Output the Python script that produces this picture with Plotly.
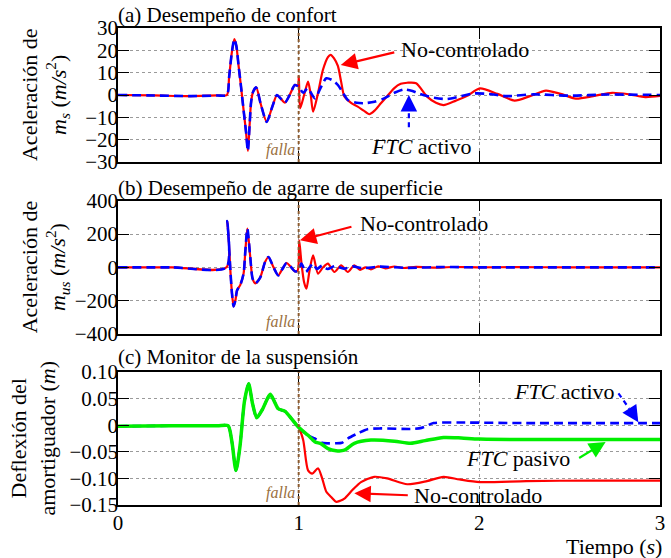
import plotly.graph_objects as go

# ---------------- data ----------------
# (a) sprung-mass acceleration m_s (m/s^2) : common part before the fault
t_a_pre = [0, 0.2, 0.4, 0.55, 0.603, 0.615, 0.63, 0.644, 0.655, 0.668, 0.682, 0.695, 0.708, 0.719,
           0.728, 0.737, 0.748, 0.765, 0.79, 0.823, 0.855, 0.88, 0.90, 0.924, 0.95, 0.979]
acc_ms_pre = [0, -0.2, -0.5, -0.2, 0, 8, 19, 25, 22, 12.7, 3, -6.7, -16, -25,
              -14, -3, 1.5, 3.4, -4, -12, -5, 0, -1.5, -3.4, 0, 4.5]
# no-controlado after the fault
t_a_nc = [0.996, 1.001, 1.008, 1.03, 1.052, 1.066, 1.08, 1.107, 1.134, 1.162, 1.177, 1.195, 1.217,
          1.235, 1.253, 1.29, 1.327, 1.36, 1.391, 1.42, 1.455, 1.49, 1.528, 1.565, 1.601, 1.65,
          1.711, 1.76, 1.802, 1.87, 1.93, 2.003, 2.1, 2.195, 2.28, 2.369, 2.45, 2.534, 2.63,
          2.735, 2.83, 2.918, 3.0]
acc_ms_nc = [4.2, 8.5, -6, 0, 6, 0.5, -7.5, 0.8, 11.2, 17, 18, 16.5, 13,
             6, -0.7, -3.5, -5.2, -7, -8.6, -7, -3.7, -0.5, 3, 5, 5.5, 5.3,
             -0.7, -3.5, -4.5, -2.5, -0.5, 3, 0.5, -2.5, -0.5, 2, 0.5, -1.6, -0.5,
             1, 0.3, -0.9, -0.4]
# FTC activo after the fault
t_a_ftc = [1.0, 1.025, 1.05, 1.09, 1.12, 1.153, 1.19, 1.217, 1.245, 1.272, 1.32, 1.363, 1.42,
           1.473, 1.53, 1.583, 1.63, 1.67, 1.75, 1.82, 1.9, 1.97, 2.05, 2.15, 2.3, 2.5, 2.7, 3.0]
acc_ms_ftc = [3.7, 1, 3, -1.5, 3, 7.5, 6.5, 4.5, 1, -2.2, -3.5, -3.7, -3,
              -1.5, 1, 2.5, 1.8, 0.5, -1.2, -1.8, -0.5, 0.7, 0.5, -0.5, 0.3, -0.3, 0.2, 0]

# (b) unsprung-mass acceleration m_us (m/s^2)
t_b_pre = [0, 0.3, 0.601, 0.605, 0.614, 0.622, 0.631, 0.64, 0.65, 0.659, 0.677, 0.695, 0.705, 0.716,
           0.732, 0.745, 0.76, 0.787, 0.814, 0.833, 0.86, 0.887, 0.91, 0.933, 0.955, 0.979]
acc_mus_pre = [0, 0, 0, 278, 142, -18, -158, -234, -198, -138, -105, -38, 100, 232,
               62, -68, -96, -62, 32, 62, 2, -48, -10, 26, 5, -24]
t_b_nc = [0.995, 1.003, 1.015, 1.03, 1.043, 1.06, 1.08, 1.107, 1.135, 1.162, 1.198, 1.235, 1.272,
          1.308, 1.34, 1.37, 1.40, 1.44, 1.48, 1.53, 1.58, 1.65, 1.75, 1.85, 2.0, 2.2, 2.5, 3.0]
acc_mus_nc = [-18, 162, 30, -90, -128, -20, 72, -38, 0, 22, -28, 12, -28,
              12, -15, 0, -12, 6, -6, 5, -4, 3, -2, 2, 0, 1, 0, 0]
t_b_ftc = [0.997, 1.015, 1.04, 1.06, 1.08, 1.10, 1.13, 1.16, 1.2, 1.25, 1.3, 1.35, 1.45, 1.6, 1.8,
           2.0, 3.0]
acc_mus_ftc = [-20, 22, -28, 0, 22, -10, 10, -10, 8, -8, 6, -5, 4, -3, 2, 0, 0]

# (c) suspension deflection (m)
t_c_pre = [0, 0.3, 0.55, 0.609, 0.63, 0.653, 0.675, 0.70, 0.723, 0.745, 0.768, 0.80, 0.842, 0.865,
           0.887, 0.925, 0.961, 1.0]
defl_pre = [-0.002, -0.001, -0.001, -0.001, -0.03, -0.085, -0.04, 0.045, 0.078, 0.04, 0.014, 0.03,
            0.058, 0.045, 0.031, 0.026, 0.012, -0.004]
t_c_nc = [1.025, 1.052, 1.075, 1.107, 1.13, 1.153, 1.18, 1.207, 1.23, 1.253, 1.3, 1.345, 1.418,
          1.49, 1.601, 1.71, 1.802, 1.89, 2.003, 2.26, 2.62, 3.0]
defl_nc = [-0.028, -0.085, -0.091, -0.081, -0.1, -0.125, -0.135, -0.144, -0.142, -0.138, -0.121,
           -0.107, -0.097, -0.1, -0.111, -0.105, -0.097, -0.102, -0.107, -0.105, -0.104, -0.104]
t_c_act = [1.052, 1.089, 1.13, 1.207, 1.24, 1.272, 1.33, 1.381, 1.455, 1.62, 1.68, 1.747, 1.89,
           2.26, 3.0]
defl_act = [-0.019, -0.025, -0.033, -0.034, -0.033, -0.025, -0.015, -0.0075, -0.006, -0.007,
            -0.005, 0.004, 0.005, 0.004, 0.004]
t_c_pas = [1.052, 1.089, 1.125, 1.162, 1.207, 1.253, 1.308, 1.40, 1.53, 1.62, 1.70, 1.802, 1.9,
           2.0, 2.45, 3.0]
defl_pas = [-0.019, -0.031, -0.035, -0.044, -0.048, -0.047, -0.034, -0.028, -0.030, -0.034,
            -0.029, -0.023, -0.024, -0.026, -0.027, -0.027]

x_ticks = [0, 1, 2, 3]
defl_ticks = [0.10, 0.05, 0, -0.05, -0.10, -0.15]
defl_tick_text = ["0.10", "0.05", "0", "\u22120.05", "\u22120.10", "\u22120.15"]
t_fault = 1.0

# ---------------- figure ----------------
RED = "#ff0000"
BLUE = "#0000ff"
GREEN = "#00ee00"
BROWN = "#8c5a2d"
FALLA = "#9a7040"
FONT = "Liberation Serif"

fig = go.Figure()


def add(t, v, color, width, dash, xa, ya):
    fig.add_trace(go.Scatter(
        x=t, y=v, mode="lines", xaxis=xa, yaxis=ya, showlegend=False, hoverinfo="skip",
        line=dict(color=color, width=width, dash=dash, shape="spline", smoothing=0.7)))


add(t_a_pre + t_a_nc, acc_ms_pre + acc_ms_nc, RED, 2.2, "solid", "x", "y")
add(t_a_pre + t_a_ftc, acc_ms_pre + acc_ms_ftc, BLUE, 2.6, "9px,5px", "x", "y")
add(t_b_pre + t_b_nc, acc_mus_pre + acc_mus_nc, RED, 2.2, "solid", "x2", "y2")
add(t_b_pre + t_b_ftc, acc_mus_pre + acc_mus_ftc, BLUE, 2.6, "9px,5px", "x2", "y2")
add(t_c_pre + t_c_nc, defl_pre + defl_nc, RED, 2.2, "solid", "x3", "y3")
add(t_c_pre + t_c_act, defl_pre + defl_act, BLUE, 2.6, "9px,5px", "x3", "y3")
add(t_c_pre + t_c_pas, defl_pre + defl_pas, GREEN, 3.5, "solid", "x3", "y3")

axis_common = dict(
    showline=True, linecolor="black", linewidth=1.6, mirror="ticks",
    ticks="inside", ticklen=11, tickwidth=1.4, tickcolor="black",
    showgrid=True, gridcolor="#9a9a9a", griddash="dot", gridwidth=1,
    zeroline=False, tickfont=dict(family=FONT, size=21, color="black"),
)
y_common = dict(axis_common, ticklabelstandoff=-6)

fig.update_layout(
    width=671, height=558,
    margin=dict(l=118, r=6, t=28, b=53),
    paper_bgcolor="white", plot_bgcolor="white",
    font=dict(family=FONT, color="black"),
    xaxis=dict(axis_common, domain=[0, 1], anchor="y", range=[0, 3], tickvals=x_ticks,
               showticklabels=False),
    xaxis2=dict(axis_common, domain=[0, 1], anchor="y2", range=[0, 3], tickvals=x_ticks,
                showticklabels=False),
    xaxis3=dict(axis_common, domain=[0, 1], anchor="y3", range=[0, 3], tickvals=x_ticks,
                ticklabelstandoff=-2),
    yaxis=dict(y_common, domain=[0.719, 1], anchor="x", range=[-30, 30], dtick=10),
    yaxis2=dict(y_common, domain=[0.3585, 0.638], anchor="x2", range=[-400, 400], dtick=200),
    yaxis3=dict(y_common, domain=[0, 0.2788], anchor="x3", range=[-0.15, 0.10],
                tickvals=defl_ticks, ticktext=defl_tick_text),
)

annotations = []
shapes = []

# fault lines and labels
for xr, yr, fy in (("x", "y", -24.6), ("x2", "y2", -328), ("x3", "y3", -0.1265)):
    shapes.append(dict(type="line", xref=xr, yref=yr + " domain", x0=t_fault, x1=t_fault,
                       y0=0, y1=1, line=dict(color=BROWN, width=2, dash="dot")))
    annotations.append(dict(xref=xr, yref=yr, x=0.99, y=fy, text="<i>falla</i>", showarrow=False,
                            xanchor="right", yanchor="middle",
                            font=dict(family=FONT, size=16, color=FALLA)))

# panel titles
for yr, txt, sh in (("y", "(a) Desempeño de confort", 13),
                    ("y2", "(b) Desempeño de agarre de superficie", 13),
                    ("y3", "(c) Monitor de la suspensión", 15)):
    annotations.append(dict(xref="paper", yref=yr + " domain", x=0, y=1, yshift=sh, text=txt,
                            showarrow=False, xanchor="left", yanchor="middle", xshift=-2,
                            font=dict(family=FONT, size=21, color="black")))

# y-axis titles
for yr, txt, sh in (("y", "Aceleración de<br><i>m<sub>s</sub></i> (<i>m/s</i><sup>2</sup>)", -73),
                    ("y2", "Aceleración de<br><i>m<sub>us</sub></i> (<i>m/s</i><sup>2</sup>)", -73),
                    ("y3", "Deflexión del<br>amortiguador (<i>m</i>)", -85)):
    annotations.append(dict(xref="paper", yref=yr + " domain", x=0, y=0.5, xshift=sh,
                            text=txt, showarrow=False, textangle=-90,
                            xanchor="center", yanchor="middle",
                            font=dict(family=FONT, size=22, color="black")))

# x-axis title
annotations.append(dict(xref="paper", yref="paper", x=1, y=0, xshift=4, yshift=-27,
                        text="Tiempo (<i>s</i>)", showarrow=False, xanchor="right", yanchor="top",
                        font=dict(family=FONT, size=22, color="black")))

lab = dict(family=FONT, size=22, color="black")

# (a) annotations
annotations.append(dict(xref="x", yref="y", x=1.555, y=20.2, text="No-controlado",
                        showarrow=False, xanchor="left", yanchor="middle", font=lab))
annotations.append(dict(xref="x", yref="y", x=1.233, y=13.4, ax=55, ay=-13, text="",
                        showarrow=True, arrowhead=2, arrowsize=1.5, arrowwidth=2.2,
                        arrowcolor=RED))
annotations.append(dict(xref="x", yref="y", x=1.678, y=-23.2, text="<i>FTC</i> activo",
                        showarrow=False, xanchor="center", yanchor="middle", font=lab))
shapes.append(dict(type="line", xref="x", yref="y", x0=1.61, x1=1.61, y0=-14.4, y1=-6.5,
                   line=dict(color=BLUE, width=2.2, dash="5px,4px")))
annotations.append(dict(xref="x", yref="y", x=1.61, y=0, ax=0, ay=14, text="",
                        showarrow=True, arrowhead=2, arrowsize=1.5, arrowwidth=2.2,
                        arrowcolor=BLUE))

# (b) annotations
annotations.append(dict(xref="x2", yref="y2", x=1.326, y=262, text="No-controlado",
                        showarrow=False, xanchor="left", yanchor="middle", font=lab))
annotations.append(dict(xref="x2", yref="y2", x=1.007, y=162, ax=53, ay=-14, text="",
                        showarrow=True, arrowhead=2, arrowsize=1.5, arrowwidth=2.2,
                        arrowcolor=RED))

# (c) annotations
annotations.append(dict(xref="x3", yref="y3", x=2.47, y=0.0626, text="<i>FTC</i> activo",
                        showarrow=False, xanchor="center", yanchor="middle", font=lab))
shapes.append(dict(type="line", xref="x3", yref="y3", x0=2.77, x1=2.83, y0=0.060, y1=0.031,
                   line=dict(color=BLUE, width=2.2, dash="5px,4px")))
annotations.append(dict(xref="x3", yref="y3", x=2.88, y=0.0055, ax=-9, ay=-14, text="",
                        showarrow=True, arrowhead=2, arrowsize=1.5, arrowwidth=2.2,
                        arrowcolor=BLUE))
annotations.append(dict(xref="x3", yref="y3", x=2.214, y=-0.0626, text="<i>FTC</i> pasivo",
                        showarrow=False, xanchor="center", yanchor="middle", font=lab))
annotations.append(dict(xref="x3", yref="y3", x=2.699, y=-0.0314, ax=-28, ay=17, text="",
                        showarrow=True, arrowhead=2, arrowsize=1.5, arrowwidth=2.2,
                        arrowcolor=GREEN))
annotations.append(dict(xref="x3", yref="y3", x=1.995, y=-0.133, text="No-controlado",
                        showarrow=False, xanchor="center", yanchor="middle", font=lab))
annotations.append(dict(xref="x3", yref="y3", x=1.308, y=-0.128, ax=55, ay=2, text="",
                        showarrow=True, arrowhead=2, arrowsize=1.5, arrowwidth=2.2,
                        arrowcolor=RED))

fig.update_layout(annotations=annotations, shapes=shapes)
# remove the browser's default 8px page margin so the figure fills the window exactly
fig.write_html("out.html", config={"displayModeBar": False},
               post_script="document.body.style.margin='0';")
